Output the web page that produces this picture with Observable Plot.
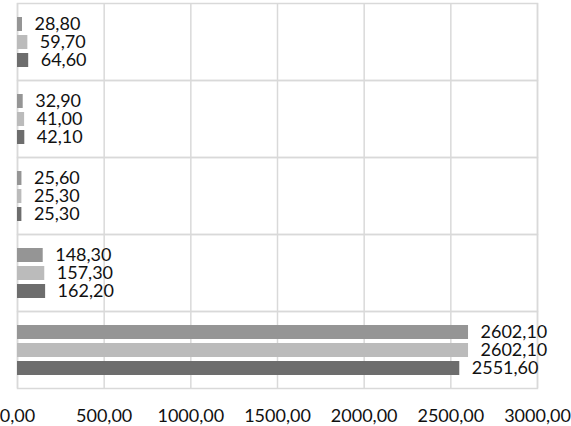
<!DOCTYPE html>
<html>
<head>
<meta charset="utf-8">
<script src="https://cdn.jsdelivr.net/npm/d3@7"></script>
<script src="https://cdn.jsdelivr.net/npm/@observablehq/plot@0.6"></script>
<style>
  html, body { margin: 0; padding: 0; background: #fff; }
  #chart svg { display: block; }
</style>
</head>
<body>
<div id="chart"></div>
<script>
// Categories, top to bottom (no names shown in the chart)
const categories = ["Group 1", "Group 2", "Group 3", "Group 4", "Group 5"];
const seriesNames = ["Series 1", "Series 2", "Series 3"];
const series1 = [28.80, 32.90, 25.60, 148.30, 2602.10];
const series2 = [59.70, 41.00, 25.30, 157.30, 2602.10];
const series3 = [64.60, 42.10, 25.30, 162.20, 2551.60];
const xTicks = [0, 500, 1000, 1500, 2000, 2500, 3000];
const seriesColors = ["#959595", "#bbbbbb", "#6d6d6d"];

const allSeries = [series1, series2, series3];
const data = [];
categories.forEach((c, i) => {
  seriesNames.forEach((s, j) => {
    data.push({category: c, series: s, value: allSeries[j][i]});
  });
});

const fmt = d => d.toFixed(2).replace(".", ",");

const chart = Plot.plot({
  width: 571,
  height: 426,
  marginLeft: 17,
  marginRight: 34,
  marginTop: 1,
  marginBottom: 37,
  style: {fontFamily: "Lato, sans-serif", fontSize: "18px", color: "#111", background: "#fff"},
  fy: {domain: categories, padding: 0, axis: null},
  y: {domain: seriesNames, axis: null, paddingInner: 0.235, paddingOuter: 0.74},
  x: {domain: [0, 3000], axis: null, label: null},
  color: {domain: seriesNames, range: seriesColors},
  marks: [
    Plot.gridX(xTicks, {stroke: "#d9d9d9", strokeOpacity: 1, strokeWidth: 1.5}),
    Plot.frame({stroke: "#d9d9d9", strokeWidth: 1.5}),
    Plot.barX(data, {fy: "category", y: "series", x: "value", fill: "series"}),
    Plot.text(data, {fy: "category", y: "series", x: "value", text: d => fmt(d.value),
      textAnchor: "start", dx: 12, fill: "#111", fontSize: 18}),
    Plot.axisX(xTicks, {anchor: "bottom", tickSize: 0, tickPadding: 21, tickFormat: fmt,
      label: null, fontSize: 18, fill: "#111", facetAnchor: "bottom"})
  ]
});
document.getElementById("chart").appendChild(chart);
</script>
</body>
</html>
